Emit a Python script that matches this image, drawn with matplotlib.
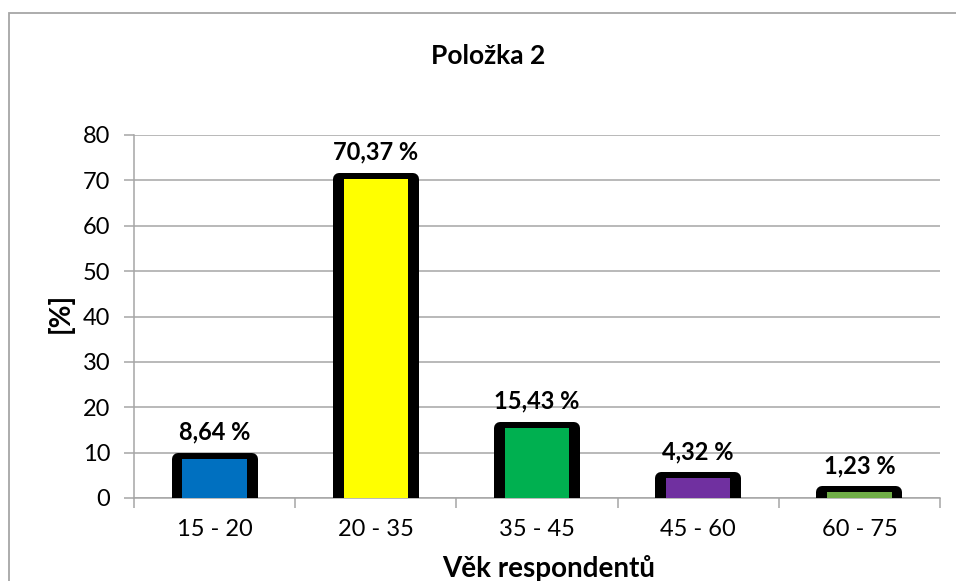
import matplotlib
matplotlib.use("Agg")
import matplotlib.pyplot as plt
from matplotlib.patches import Rectangle
import numpy as np

plt.rcParams['font.family'] = ['Lato', 'DejaVu Sans']

categories = ['15 - 20', '20 - 35', '35 - 45', '45 - 60', '60 - 75']
values = [8.64, 70.37, 15.43, 4.32, 1.23]
labels = ['8,64 %', '70,37 %', '15,43 %', '4,32 %', '1,23 %']
colors = ['#0070C0', '#FFFF00', '#00B050', '#7030A0', '#70AD47']

W, H = 956, 581
fig = plt.figure(figsize=(W / 100, H / 100), dpi=100)

# chart frame (cropped on right and bottom like the original)
fig.patches.append(Rectangle((9 / W, -0.1), 1.2, (H - 13) / H + 0.1,
                             transform=fig.transFigure, fill=False,
                             edgecolor='#A6A6A6', linewidth=1.3))

ax = fig.add_axes([134 / W, (H - 498) / H, (940 - 134) / W, (498 - 135) / H])
x = np.arange(len(categories))

lw_px = 12
ax.bar(x, values, width=0.458, color='black', edgecolor='black',
       linewidth=lw_px * 0.72, joinstyle='round', zorder=3)
ax.bar(x, values, width=0.40, color=colors, linewidth=0, zorder=4)

for xi, v, lab in zip(x, values, labels):
    ax.annotate(lab, (xi, v), xytext=(0, 11), textcoords='offset points',
                ha='center', va='bottom', fontsize=17, fontweight='bold',
                zorder=5)

ax.set_xlim(-0.5, len(categories) - 0.5)
ax.set_ylim(0, 80)
ax.set_yticks(range(0, 81, 10))
ax.yaxis.grid(True, color='#A6A6A6', linewidth=1.1)
ax.set_axisbelow(True)

ax.set_xticks(x)
ax.set_xticklabels(categories)
ax.set_xticks(np.arange(-0.5, len(categories)), minor=True)
ax.tick_params(axis='x', which='major', length=0, pad=15, labelsize=17)
ax.tick_params(axis='x', which='minor', length=7, color='#A6A6A6', width=1.1)
ax.tick_params(axis='y', length=7, color='#A6A6A6', width=1.1, pad=10,
               labelsize=17)

for s in ['top', 'right']:
    ax.spines[s].set_visible(False)
ax.spines['left'].set_color('#A6A6A6')
ax.spines['bottom'].set_color('#A6A6A6')
ax.spines['left'].set_linewidth(1.1)
ax.spines['bottom'].set_linewidth(1.1)

fig.text(488 / W, 1 - 56 / H, 'Položka 2', ha='center', va='center',
         fontsize=19, fontweight='bold')
fig.text(549 / W, 1 - 568 / H, 'Věk respondentů', ha='center', va='center',
         fontsize=20, fontweight='bold')
fig.text(60 / W, 1 - 313 / H, '[%]', ha='center', va='center',
         fontsize=20, fontweight='bold', rotation=90)

fig.savefig('out.png', dpi=100)
